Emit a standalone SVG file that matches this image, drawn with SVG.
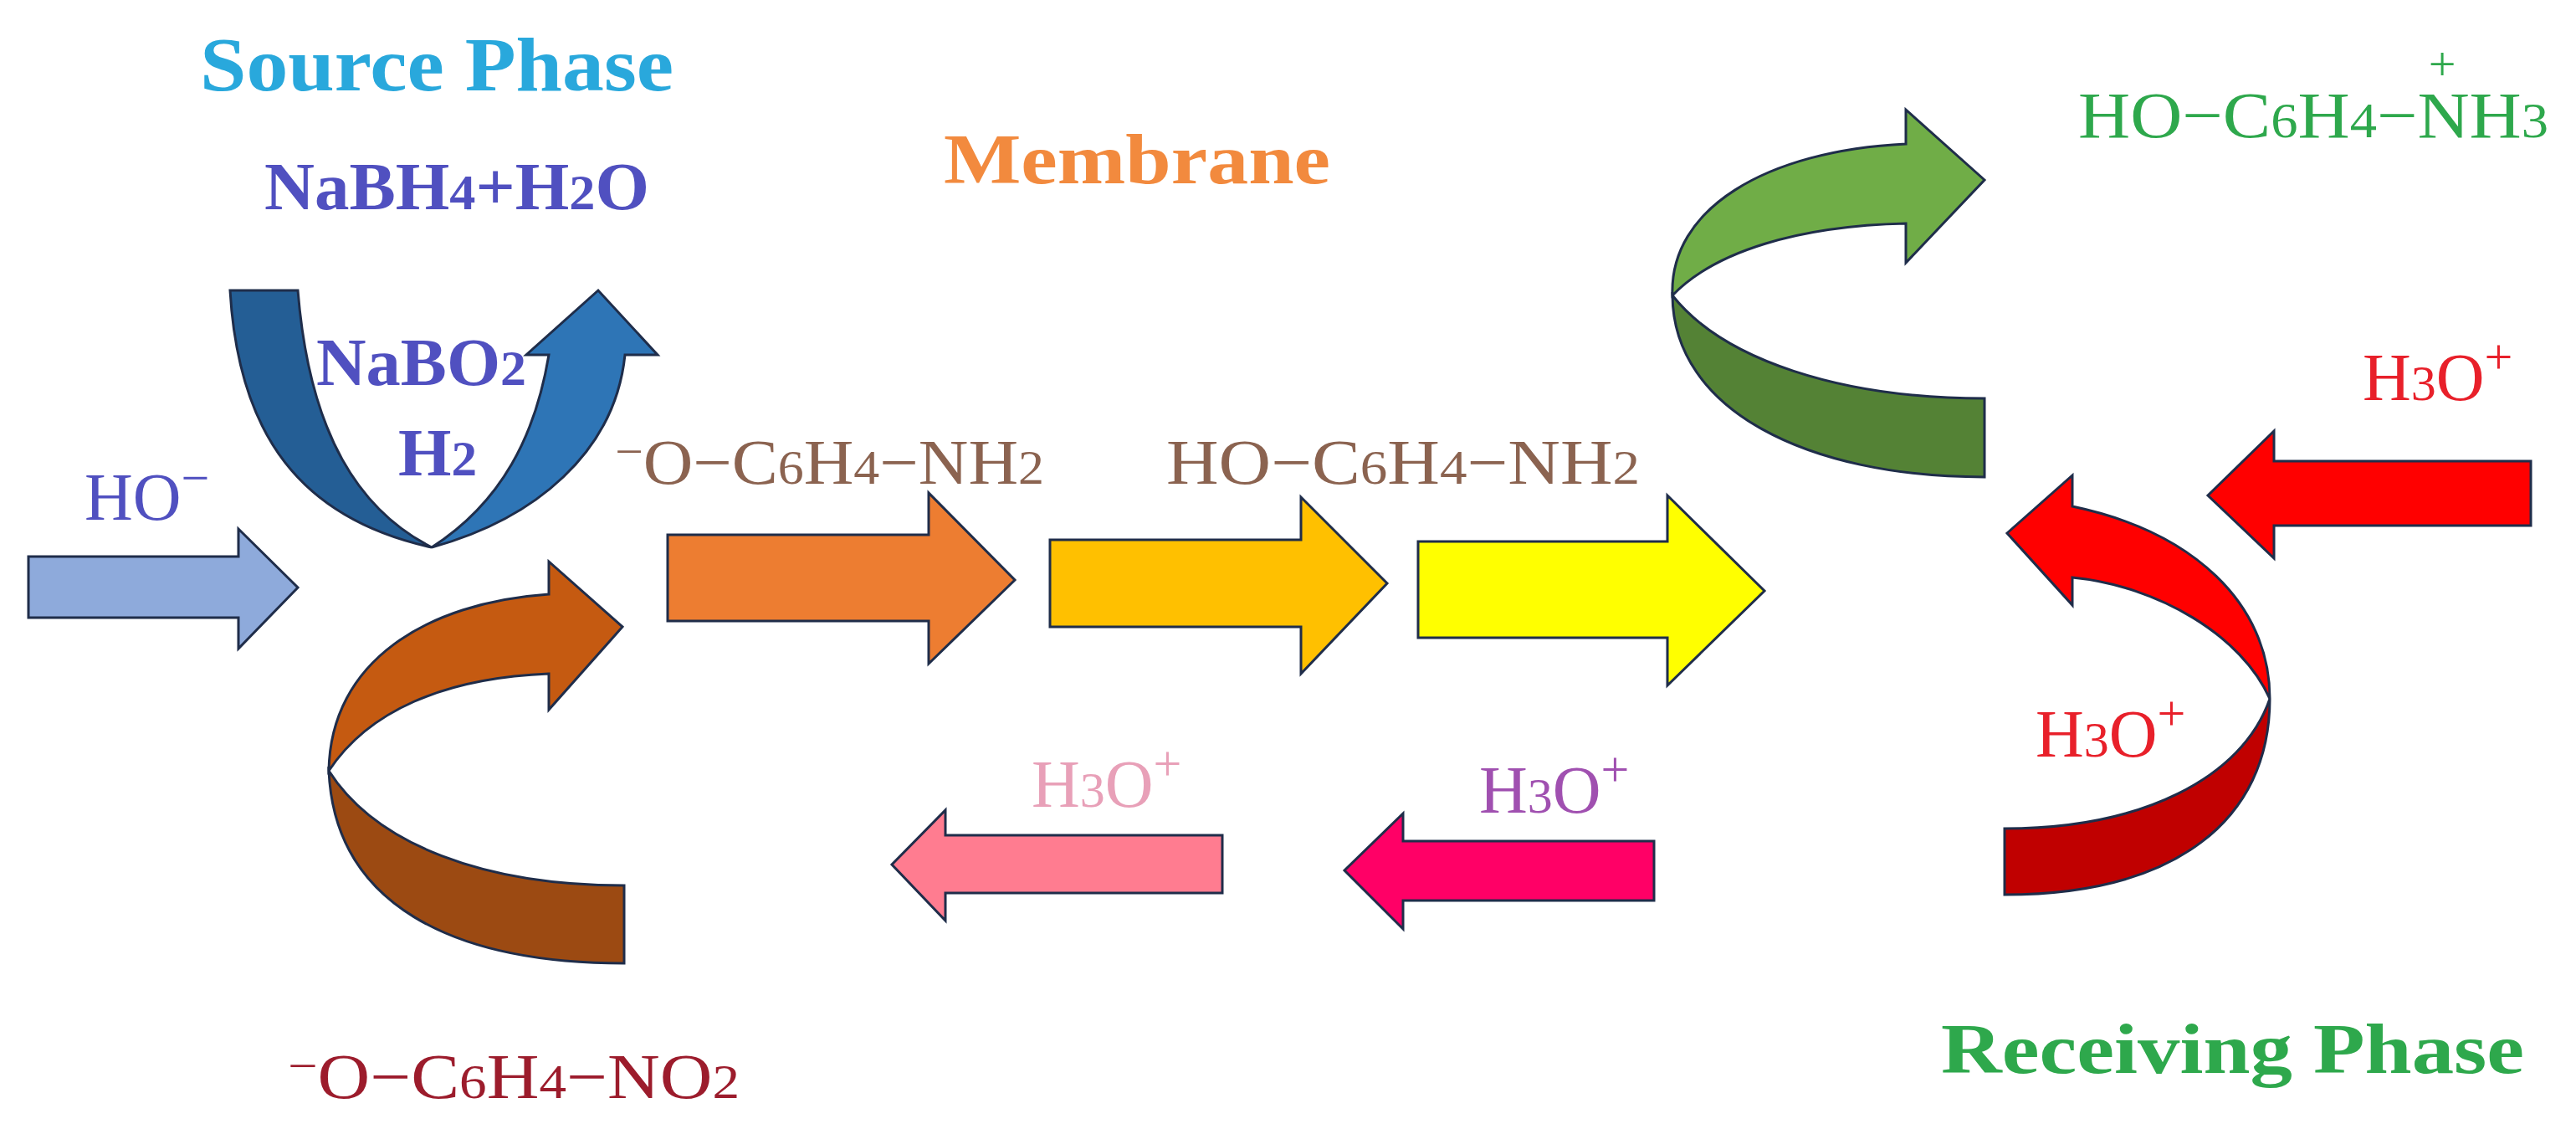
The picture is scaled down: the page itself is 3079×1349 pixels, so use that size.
<svg xmlns="http://www.w3.org/2000/svg" width="3079" height="1349" viewBox="0 0 3079 1349">
<style>
.a{stroke:#1f2d4a;stroke-width:3;stroke-linejoin:miter}
.t{font-family:"Liberation Serif",serif;font-weight:bold}
.r{font-family:"Liberation Serif",serif;font-weight:normal}
.s{font-size:75%}
</style>
<rect width="3079" height="1349" fill="#fff"/>
<g id="connectors">
<polygon id="a_ho" class="a" fill="#8eaadb" points="34,665 285,665 285,632 356,702 285,775 285,738 34,738"/>
<polygon id="a_orange" class="a" fill="#ed7d31" points="798,639 1110,639 1110,589 1213,693 1110,793 1110,742 798,742"/>
<polygon id="a_gold" class="a" fill="#ffc000" points="1255,645 1555,645 1555,594 1658,697 1555,805 1555,749 1255,749"/>
<polygon id="a_yellow" class="a" fill="#ffff00" points="1695,647 1993,647 1993,592 2109,706 1993,819 1993,762 1695,762"/>
<polygon id="a_red" class="a" fill="#ff0000" points="3025,551 2718,551 2718,515 2639,592 2718,667 2718,628 3025,628"/>
<polygon id="a_magenta" class="a" fill="#ff0066" points="1977,1005 1677,1005 1677,972 1607,1040 1677,1110 1677,1076 1977,1076"/>
<polygon id="a_pink" class="a" fill="#ff7c90" points="1461,998 1130,998 1130,968 1066,1033 1130,1100 1130,1067 1461,1067"/>
<g id="c_blue">
<path class="a" fill="#245e95" d="M275,347 L356,347 C370,520 430,610 516,654 C360,620 285,520 275,347 Z"/>
<path class="a" fill="#2e75b6" d="M516,654 C640,620 735,540 747,424 L786,424 L715,347 L629,424 L656,424 C640,520 600,600 516,654 Z"/>
</g>
<g id="c_brown">
<path class="a" fill="#9c4a12" d="M746,1058 L746,1151 C540,1151 400,1080 393,921 C450,1010 580,1058 746,1058 Z"/>
<path class="a" fill="#c55a11" d="M393,921 C395,790 510,720 656,710 L656,671 L744,749 L656,848 L656,805 C530,810 440,850 393,921 Z"/>
</g>
<g id="c_green">
<path class="a" fill="#548235" d="M2372,476 L2372,570 C2160,570 2000,490 1999,353 C2060,430 2200,476 2372,476 Z"/>
<path class="a" fill="#70ad47" d="M1999,353 C1995,250 2110,180 2278,172 L2278,131 L2372,215 L2278,314 L2278,267 C2150,270 2050,300 1999,353 Z"/>
</g>
<g id="c_red">
<path class="a" fill="#c00000" d="M2396,990 L2396,1069 C2600,1069 2713,980 2713,835 C2680,930 2560,990 2396,990 Z"/>
<path class="a" fill="#ff0000" d="M2713,835 C2713,720 2620,635 2477,605 L2477,568 L2399,637 L2477,723 L2477,690 C2580,700 2680,760 2713,835 Z"/>
</g>
</g>
<g id="labels">
<g id="n_source"><text class="t" x="239" y="108" font-size="90" fill="#29a8dc" textLength="566" lengthAdjust="spacingAndGlyphs">Source Phase</text></g>
<g id="n_membrane"><text class="t" x="1128" y="219" font-size="85" fill="#f28a3e" textLength="462" lengthAdjust="spacingAndGlyphs">Membrane</text></g>
<g id="n_receiving"><text class="t" x="2320" y="1282" font-size="85" fill="#2ea84c" textLength="697" lengthAdjust="spacingAndGlyphs">Receiving Phase</text></g>
<g id="n_nabh4"><text class="t" x="316" y="250" font-size="80" fill="#5050c0" textLength="460" lengthAdjust="spacingAndGlyphs">NaBH<tspan class="s">4</tspan>+H<tspan class="s">2</tspan>O</text></g>
<g id="n_nabo2"><text class="t" x="378" y="460" font-size="80" fill="#5050c0" textLength="251" lengthAdjust="spacingAndGlyphs">NaBO<tspan class="s">2</tspan></text></g>
<g id="n_h2"><text class="t" x="476" y="568" font-size="80" fill="#5050c0" textLength="94" lengthAdjust="spacingAndGlyphs">H<tspan class="s">2</tspan></text></g>
<g id="n_ho"><text class="r" x="101" y="621" font-size="80" fill="#5050c0">HO<tspan dy="-30" font-size="60">−</tspan></text></g>
<g id="n_onh2"><text class="r" x="735" y="578" font-size="76" fill="#8b6350" textLength="513" lengthAdjust="spacingAndGlyphs"><tspan dy="-20" font-size="55">−</tspan><tspan dy="20">O−C</tspan><tspan class="s">6</tspan>H<tspan class="s">4</tspan>−NH<tspan class="s">2</tspan></text></g>
<g id="n_honh2"><text class="r" x="1394" y="578" font-size="76" fill="#8b6350" textLength="566" lengthAdjust="spacingAndGlyphs">HO−C<tspan class="s">6</tspan>H<tspan class="s">4</tspan>−NH<tspan class="s">2</tspan></text></g>
<g id="n_honh3"><text class="r" x="2484" y="164" font-size="78" fill="#2ea84c" textLength="562" lengthAdjust="spacingAndGlyphs">HO−C<tspan class="s">6</tspan>H<tspan class="s">4</tspan>−NH<tspan class="s">3</tspan></text>
<text class="r" x="2919" y="96" font-size="58" fill="#2ea84c" text-anchor="middle">+</text></g>
<g id="n_ono2"><text class="r" x="344" y="1312" font-size="76" fill="#9c1c2c" textLength="540" lengthAdjust="spacingAndGlyphs"><tspan dy="-20" font-size="55">−</tspan><tspan dy="20">O−C</tspan><tspan class="s">6</tspan>H<tspan class="s">4</tspan>−NO<tspan class="s">2</tspan></text></g>
<g id="n_h3o_r"><text class="r" x="2824" y="478" font-size="80" fill="#e8202a">H<tspan class="s">3</tspan>O<tspan dy="-32" font-size="60">+</tspan></text></g>
<g id="n_h3o_m"><text class="r" x="2433" y="904" font-size="80" fill="#e8202a">H<tspan class="s">3</tspan>O<tspan dy="-32" font-size="60">+</tspan></text></g>
<g id="n_h3o_p"><text class="r" x="1768" y="971" font-size="80" fill="#a050b0">H<tspan class="s">3</tspan>O<tspan dy="-32" font-size="60">+</tspan></text></g>
<g id="n_h3o_k"><text class="r" x="1233" y="964" font-size="80" fill="#e8a0b8">H<tspan class="s">3</tspan>O<tspan dy="-32" font-size="60">+</tspan></text></g>
</g>
</svg>
